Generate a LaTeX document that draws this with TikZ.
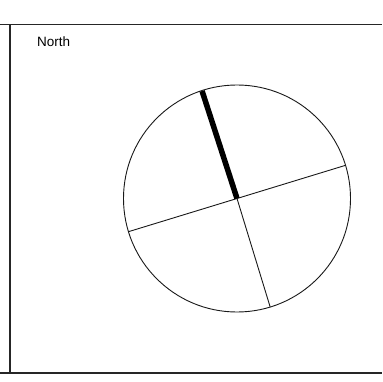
\documentclass[tikz,border=0pt]{standalone}
\usepackage{fontspec}
\setmainfont{Liberation Sans}
\usetikzlibrary{calc}
\begin{document}
\begin{tikzpicture}[x=1pt,y=-1pt,
  frameline/.style={line width=1.6pt,draw=black!85},
  thinline/.style={line width=0.9pt,draw=black!90},
  hand/.style={line width=5.5pt,draw=black,line cap=butt}]
\useasboundingbox (0,0) rectangle (382,382);
\draw[frameline] (0,24.5) -- (382,24.5);
\draw[frameline] (0,373) -- (382,373);
\draw[frameline] (10,24.5) -- (10,373);
\node[anchor=base west,inner sep=0pt,font=\fontsize{13.5}{16}\selectfont] (north) at (37,47) {North};
\coordinate (c) at (237,198.5);
\coordinate (e) at ($(c)+(-17:113.5)$);
\coordinate (w) at ($(c)+(-197:113.5)$);
\coordinate (s) at ($(c)+(73:113.5)$);
\coordinate (n) at ($(c)+(-108:113)$);
\draw[thinline] (c) circle[radius=113.5];
\draw[thinline] (w) -- (e);
\draw[thinline] (c) -- (s);
\draw[hand] (c) -- (n);
\end{tikzpicture}
\end{document}
